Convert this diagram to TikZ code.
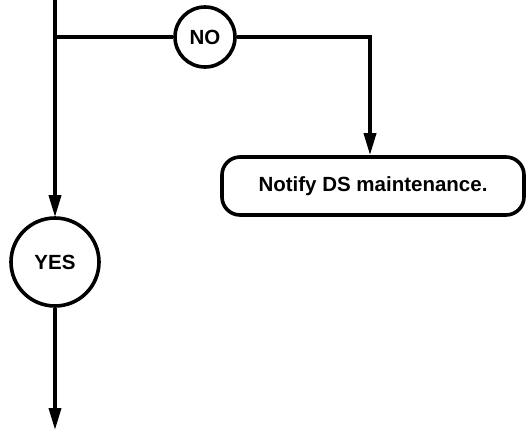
\documentclass[tikz,border=0pt]{standalone}
\usepackage{fontspec}
\setmainfont{Liberation Sans}
\usetikzlibrary{arrows.meta}
\begin{document}
\begin{tikzpicture}[x=1pt,y=-1pt,
  line width=3.6pt,
  lbl/.style={font=\fontsize{20.5}{24}\selectfont\bfseries},
  circ/.style={draw,circle,inner sep=0pt,lbl},
  termbox/.style={draw,rounded corners=18pt,minimum width=302pt,minimum height=58pt,inner sep=0pt,lbl},
  arr/.style={-{Triangle[length=22pt,width=12pt]}}]
\useasboundingbox (0,0) rectangle (527,432);
\coordinate (top) at (55,-2);
\coordinate (junc) at (55,37);
\node[circ,minimum size=60pt] (no) at (205,37) {NO};
\coordinate (turn) at (370,37);
\node[termbox] (notify) at (373,186) {Notify DS maintenance.};
\node[circ,minimum size=88pt] (yes) at (55,262) {YES};
\coordinate (bot) at (55,430);
\draw (top) -- (junc);
\draw[arr,shorten >=-1pt] (junc) -- (yes.north);
\draw (junc) -- (no.west);
\draw[arr] (no.east) -- (turn) -- (turn |- notify.north);
\draw[arr] (yes.south) -- (bot);
\end{tikzpicture}
\end{document}
